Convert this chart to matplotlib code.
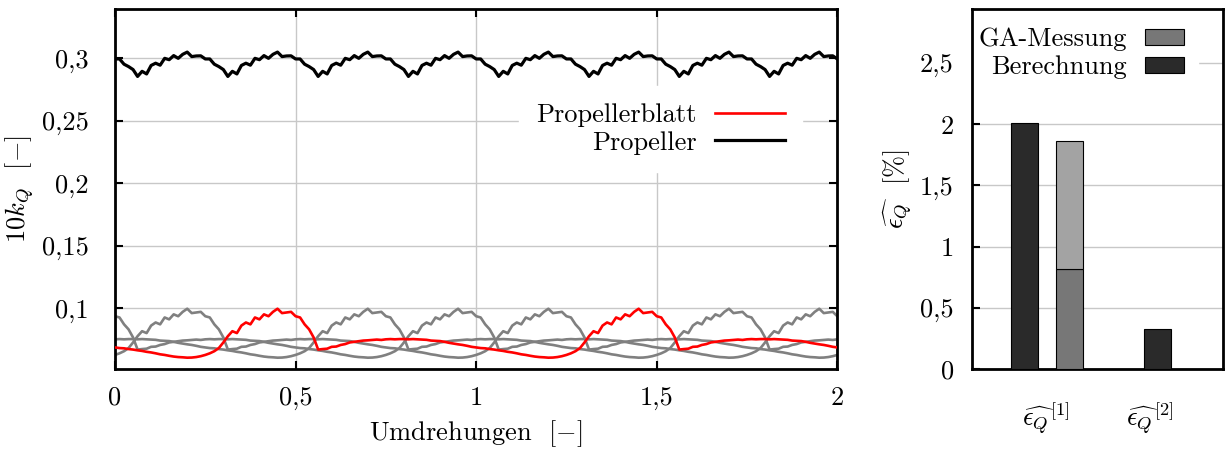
import numpy as np
import matplotlib
matplotlib.use("Agg")
import matplotlib.pyplot as plt
from matplotlib.ticker import FuncFormatter
from matplotlib.patches import Patch

plt.rcParams['font.family'] = 'serif'
plt.rcParams['font.serif'] = ['cmr10', 'DejaVu Serif']
plt.rcParams['mathtext.fontset'] = 'cm'
plt.rcParams['axes.formatter.use_mathtext'] = True
plt.rcParams['font.size'] = 19

# torque coefficient of one blade over one revolution (80 samples)
blade = [0.0685, 0.0680, 0.0678, 0.0672, 0.0668, 0.0662, 0.0657, 0.0650,
         0.0645, 0.0638, 0.0630, 0.0625, 0.0618, 0.0612, 0.0608, 0.0606,
         0.0603, 0.0604, 0.0608, 0.0615, 0.0625, 0.0638, 0.0655, 0.0680,
         0.0725, 0.0775, 0.0815, 0.0800, 0.0860, 0.0885, 0.0870, 0.0925,
         0.0910, 0.0950, 0.0935, 0.0970, 0.0995, 0.0960, 0.0965, 0.0970,
         0.0935, 0.0925, 0.0870, 0.0830, 0.0765, 0.0668, 0.0672, 0.0675,
         0.0690, 0.0692, 0.0705, 0.0712, 0.0725, 0.0730, 0.0735, 0.0740,
         0.0742, 0.0745, 0.0748, 0.0745, 0.0750, 0.0752, 0.0750, 0.0752,
         0.0752, 0.0750, 0.0752, 0.0750, 0.0748, 0.0746, 0.0740, 0.0738,
         0.0736, 0.0730, 0.0722, 0.0716, 0.0710, 0.0705, 0.0698, 0.0690]
n_blades = 4
n_rev = 2

# bar chart values
bar_labels = [r'$\widehat{\epsilon_Q}^{[1]}$', r'$\widehat{\epsilon_Q}^{[2]}$']
calc_values = [2.01, 0.33]          # Berechnung
ga_low = [0.82]                     # GA-Messung (unterer Teil)
ga_high = [1.86]                    # GA-Messung (gesamt)

# build curves: tile over two revolutions, other blades phase shifted
blade = np.array(blade)
spr = len(blade)
x = np.arange(spr * n_rev + 1) / spr
blades = []
for k in range(n_blades):
    b = np.roll(blade, -k * spr // n_blades)
    b = np.append(np.tile(b, n_rev), b[0])
    blades.append(b)
propeller = np.sum(blades, axis=0)

comma = FuncFormatter(lambda v, pos: f"{v:g}".replace('.', ','))

fig = plt.figure(figsize=(12.27, 4.5), dpi=100)
W, H = 1227, 450
ax = fig.add_axes([115 / W, (H - 369.3) / H, (837.3 - 115) / W, (369.3 - 9) / H])
ax2 = fig.add_axes([971.7 / W, (H - 369.3) / H, (1223.3 - 971.7) / W, (369.3 - 9) / H])

# left: torque over revolutions
for b in blades[1:]:
    ax.plot(x, b, color='#808080', lw=1.9, zorder=2)
l_blade, = ax.plot(x, blades[0], color='#ff0000', lw=1.9, zorder=3)
l_prop, = ax.plot(x, propeller, color='black', lw=2.3, zorder=4)

ax.set_xlim(0, 2)
ax.set_ylim(0.051, 0.3395)
ax.set_xticks([0, 0.5, 1, 1.5, 2])
ax.set_yticks([0.1, 0.15, 0.2, 0.25, 0.3])
ax.xaxis.set_major_formatter(comma)
ax.yaxis.set_major_formatter(comma)
ax.grid(True, color='#c8c8c8', lw=1.0)
ax.set_axisbelow(True)
ax.tick_params(direction='in', length=6, width=1.5, top=True, right=True)
ax.tick_params(axis='y', pad=19)
ax.tick_params(axis='x', pad=12)
for s in ax.spines.values():
    s.set_linewidth(2.0)
ax.set_xlabel(r'Umdrehungen  $[-]$', labelpad=6)
ax.set_ylabel(r'$10k_Q$  $[-]$', labelpad=4)
leg1 = ax.legend([l_blade, l_prop], ['Propellerblatt', 'Propeller'], markerfirst=False,
                 loc='upper right', bbox_to_anchor=(0.951, 0.786), frameon=True,
                 fancybox=False, edgecolor='white', framealpha=1, handlelength=2.65,
                 labelspacing=0.15, borderpad=0.65, handletextpad=0.7, borderaxespad=0)
leg1.set_zorder(1)

# right: deviations
pos_calc = [-0.2, 1.07]
pos_ga = [-0.2 + 0.43]
w = 0.254
ax2.bar(pos_calc, calc_values, width=w, color='#2a2a2a', edgecolor='black', lw=0.8, zorder=3)
ax2.bar(pos_ga, ga_low, width=w, color='#777777', edgecolor='black', lw=0.8, zorder=3)
ax2.bar(pos_ga, np.array(ga_high) - np.array(ga_low), bottom=ga_low, width=w,
        color='#a3a3a3', edgecolor='black', lw=0.8, zorder=3)
ax2.set_xlim(-0.705, 1.7)
ax2.set_ylim(0, 2.94)
ax2.set_xticks([0.0, 1.0])
ax2.set_xticklabels(bar_labels)
ax2.set_yticks([0, 0.5, 1, 1.5, 2, 2.5])
ax2.yaxis.set_major_formatter(comma)
ax2.grid(True, axis='y', color='#c8c8c8', lw=1.0)
ax2.set_axisbelow(True)
ax2.tick_params(axis='y', direction='in', length=6, width=1.5, pad=13)
ax2.tick_params(axis='x', length=0, pad=22)
for s in ax2.spines.values():
    s.set_linewidth(2.0)
ax2.set_ylabel(r'$\widehat{\epsilon_Q}$  [%]', labelpad=4)
h_ga = Patch(facecolor='#777777', edgecolor='black', lw=0.8)
h_calc = Patch(facecolor='#2a2a2a', edgecolor='black', lw=0.8)
leg2 = ax2.legend([h_ga, h_calc], ['GA-Messung', 'Berechnung'], markerfirst=False,
                  loc='upper right', bbox_to_anchor=(0.9, 0.989), frameon=True,
                  fancybox=False, edgecolor='white', framealpha=1, handlelength=1.45,
                  handleheight=0.55, labelspacing=0.15, borderpad=0.55, handletextpad=0.7,
                  borderaxespad=0)
leg2.set_zorder(1)

fig.savefig('out.png', dpi=100)
